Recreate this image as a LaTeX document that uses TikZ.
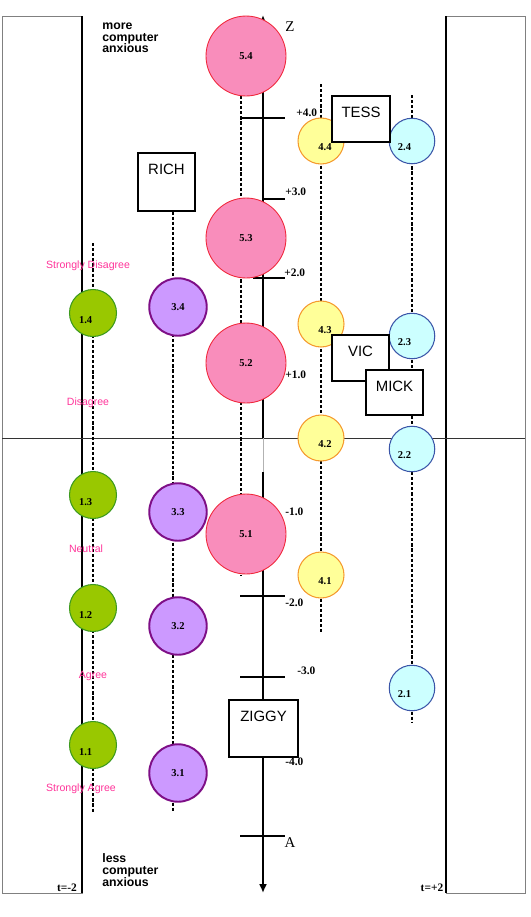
\documentclass[tikz,border=0pt]{standalone}
\usepackage{fontspec}
\setmainfont{Liberation Serif}
\setsansfont{Liberation Sans}
\usepackage{tikz}
\usetikzlibrary{arrows.meta}
\definecolor{ballpink}{HTML}{F98DBB}
\definecolor{edgepink}{HTML}{F0283C}
\definecolor{ballyellow}{HTML}{FFFF99}
\definecolor{edgeyellow}{HTML}{F59A2E}
\definecolor{ballcyan}{HTML}{CCFFFF}
\definecolor{edgecyan}{HTML}{3A55A8}
\definecolor{ballpurple}{HTML}{CC99FF}
\definecolor{edgepurple}{HTML}{7E0E86}
\definecolor{ballgreen}{HTML}{99C800}
\definecolor{edgegreen}{HTML}{3C9A1E}
\definecolor{scalepink}{HTML}{FF3399}

\tikzset{
  ball/.style={circle, inner sep=0pt, line width=0.6pt},
  balltext/.style={font=\bfseries\fontsize{6}{6.5}\selectfont, inner sep=0pt},
  pinkball/.style={ball, fill=ballpink, draw=edgepink, line width=0.5pt, minimum size=1.6cm,
    label={[balltext]center:#1}},
  yellowball/.style={ball, fill=ballyellow, draw=edgeyellow, minimum size=0.92cm,
    label={[balltext, xshift=2.3pt, yshift=-3.6pt]center:#1}},
  cyanball/.style={ball, fill=ballcyan, draw=edgecyan, minimum size=0.91cm,
    label={[balltext, xshift=-4.3pt, yshift=-3.6pt]center:#1}},
  purpleball/.style={ball, fill=ballpurple, draw=edgepurple, line width=1.1pt,
    minimum size=1.15cm, label={[balltext]center:#1}},
  greenball/.style={ball, fill=ballgreen, draw=edgegreen, minimum size=0.94cm,
    label={[balltext, xshift=-4.2pt, yshift=-3.8pt]center:#1}},
  namebox/.style={draw, fill=white, line width=0.6pt, inner sep=0pt,
    minimum width=1.14cm, minimum height=0.92cm,
    label={[font=\sffamily\fontsize{8.5}{9}\selectfont, anchor=center, yshift=-9.6pt]north:#1}},
  colline/.style={line width=1pt, dash pattern=on 1.8pt off 1.1pt},
  axisline/.style={line width=1.1pt},
  ticktext/.style={font=\bfseries\fontsize{6.5}{7}\selectfont, inner sep=0pt},
  scaletext/.style={font=\sffamily\fontsize{6}{7}\selectfont, text=scalepink, inner sep=0pt},
  sidetext/.style={font=\sffamily\bfseries\fontsize{7}{6.6}\selectfont, align=left, inner sep=0pt}
}

\begin{document}
\begin{tikzpicture}[x=0.02cm, y=-0.02cm]
  \useasboundingbox (0,0) rectangle (531,917);

  %% t=-2 and t=+2 frames
  \draw[gray, line width=0.5pt] (2,16) rectangle (82,893);
  \draw[line width=1.1pt] (82,16) -- (82,893);
  \draw[gray, line width=0.5pt] (446,16) rectangle (525,893);
  \draw[line width=1.1pt] (446,16) -- (446,893);

  %% horizontal middle line
  \draw[black!80, line width=0.5pt] (2,438) -- (525,438);

  %% logit axis (Z at top, A at bottom)
  \draw[axisline, -{Latex[length=5pt, width=4.5pt]}] (263,438) -- (263,15);
  \draw[black!30, line width=0.5pt] (263,438) -- (263,472);
  \draw[axisline, -{Latex[length=5pt, width=4.5pt]}] (263,472) -- (263,893);

  %% axis ticks
  \foreach \ya/\xa in {118/242, 199/263, 278/253, 596/240, 677/240, 836/240} {
    \draw[line width=0.6pt] (\xa,\ya) -- (285,\ya);
  }

  %% axis labels
  \foreach \lbl/\xa/\ya [count=\k] in {+4.0/296/113, +3.0/285/192, +2.0/284/273,
      +1.0/285/375, -1.0/285/512, -2.0/285/603, -3.0/297/671, -4.0/285/762} {
    \node[ticktext, anchor=west] (tick\k) at (\xa,\ya) {\lbl};
  }
  \node[font=\fontsize{8.5}{9}\selectfont, inner sep=0pt] (zend) at (290,27) {Z};
  \node[font=\fontsize{8.5}{9}\selectfont, inner sep=0pt] (aend) at (290,843) {A};

  %% RICH box first (its column line starts at the box)
  \node[namebox=RICH, minimum height=1.16cm] (rich) at (166.5,182) {};

  %% dashed item columns
  \foreach \n/\xa/\ya/\yb in {gcol/93/243/813, kcol/241/96/575,
      ycol/321/84/632, ccol/412/95/723} {
    \coordinate (\n top) at (\xa,\ya);
    \coordinate (\n bot) at (\xa,\yb);
    \draw[colline] (\n top) -- (\n bot);
  }
  \coordinate (pcolbot) at (173,812);
  \draw[colline] (rich.south -| pcolbot) -- (pcolbot);

  %% category 1 (green)
  \foreach \i/\ya in {4/313, 3/495, 2/608, 1/745} {
    \node[greenball=1.\i] (g\i) at (93,\ya) {};
  }
  %% category 3 (purple)
  \foreach \i/\ya in {4/307, 3/512, 2/626, 1/773} {
    \node[purpleball=3.\i] (p\i) at (178,\ya) {};
  }
  %% category 5 (pink)
  \foreach \i/\ya in {4/56, 3/238, 2/363, 1/534} {
    \node[pinkball=5.\i] (k\i) at (246,\ya) {};
  }
  %% category 4 (yellow)
  \foreach \i/\ya in {4/141, 3/324, 2/438, 1/575} {
    \node[yellowball=4.\i] (y\i) at (321,\ya) {};
  }
  %% category 2 (cyan)
  \foreach \i/\ya in {4/141, 3/336, 2/449, 1/688} {
    \node[cyanball=2.\i] (c\i) at (412,\ya) {};
  }

  %% persons
  \node[namebox=TESS, minimum width=1.16cm] (tess) at (361,119) {};
  \node[namebox=VIC] (vic) at (360.5,358) {};
  \node[namebox=MICK, minimum height=0.9cm] (mick) at (394.5,392.5) {};
  \node[namebox=ZIGGY, minimum width=1.38cm, minimum height=1.14cm] (ziggy) at (263.5,728.5) {};

  %% rating scale texts
  \foreach \lbl/\xa/\ya [count=\k] in {Strongly Disagree/88/266, Disagree/88/403,
      Neutral/86/549, Agree/93/676, Strongly Agree/81/789} {
    \node[scaletext] (scale\k) at (\xa,\ya) {\lbl};
  }

  %% side notes
  \node[sidetext, anchor=west] (more) at (102,38) {more\\computer\\anxious};
  \node[sidetext, anchor=west] (less) at (102,870) {less\\computer\\anxious};
  \node[ticktext] (tleft) at (67,888) {t=-2};
  \node[ticktext] (tright) at (432,888) {t=+2};

\end{tikzpicture}
\end{document}
